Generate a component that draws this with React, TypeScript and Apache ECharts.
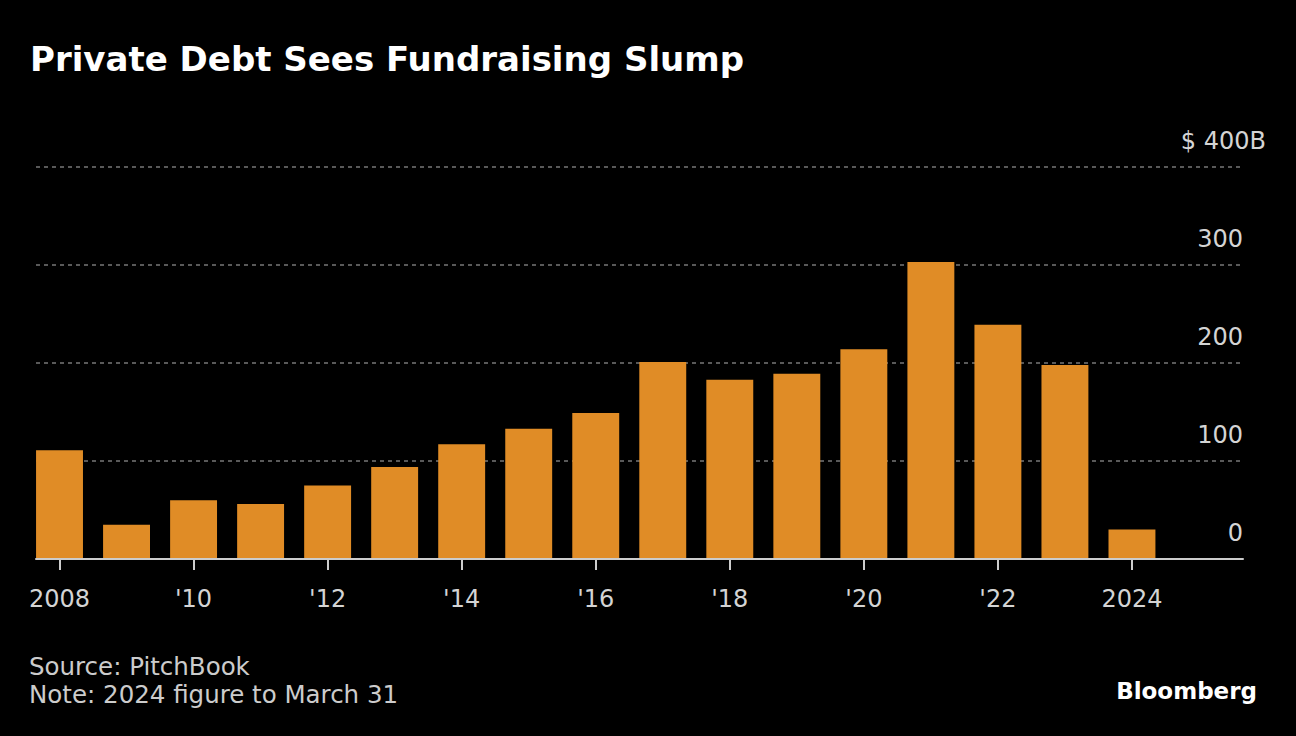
import React, { useEffect, useRef } from "react";
import * as echarts from "echarts";

const years = ["2008","2009","2010","2011","2012","2013","2014","2015","2016","2017","2018","2019","2020","2021","2022","2023","2024","2025"];
const values: (number | null)[] = [111, 35, 60, 56, 75, 94, 117, 133, 149, 201, 183, 189, 214, 303, 239, 198, 30, null];
const xLabels: Record<string, string> = { "2008": "2008", "2010": "'10", "2012": "'12", "2014": "'14", "2016": "'16", "2018": "'18", "2020": "'20", "2022": "'22", "2024": "2024" };
const yTicks = [0, 100, 200, 300];
const yMaxLabel = "$ 400";

export default function App() {
  const ref = useRef<HTMLDivElement>(null);
  useEffect(() => {
    const chart = echarts.init(ref.current!, null, { renderer: "svg" });
    const labelColor = "#d4d4d4";
    chart.setOption({
      animation: false,
      backgroundColor: "#000000",
      textStyle: { fontFamily: "DejaVu Sans" },
      grid: [
        { left: 26, right: 63.5, top: 167, bottom: 177 },
        { left: 36, right: 53, top: 167, bottom: 177 },
      ],
      xAxis: [
        {
          type: "category",
          gridIndex: 0,
          data: years,
          axisLine: { show: true, lineStyle: { color: "rgba(0,0,0,0)", width: 0 } },
          axisTick: {
            show: true,
            alignWithLabel: true,
            interval: (i: number) => i % 2 === 0 && i < 17,
            length: 11,
            lineStyle: { color: "#cccccc", width: 2 },
          },
          axisLabel: {
            interval: 0,
            formatter: (v: string) => xLabels[v] || "",
            color: labelColor,
            fontSize: 24,
            margin: 28,
          },
          z: 5,
        },
        {
          type: "value",
          gridIndex: 1,
          min: 0,
          max: 1,
          axisLine: { show: true, onZero: false, lineStyle: { color: "#cccccc", width: 2 } },
          axisTick: { show: false },
          axisLabel: { show: false },
          splitLine: { show: false },
          z: 4,
        },
      ],
      yAxis: [
        {
          type: "value",
          gridIndex: 0,
          min: 0,
          max: 400,
          interval: 100,
          show: false,
          splitLine: { show: false },
        },
        {
          type: "value",
          gridIndex: 1,
          position: "right",
          min: 0,
          max: 400,
          interval: 100,
          axisLine: { show: false },
          axisTick: { show: false },
          splitLine: { lineStyle: { color: "#777777", type: [4, 4], width: 1.5 } },
          axisLabel: {
            inside: true,
            verticalAlign: "bottom",
            padding: [0, 0, 14, 0],
            margin: 0,
            color: labelColor,
            fontSize: 24,
            formatter: (v: number) => (yTicks.includes(v) ? String(v) : ""),
          },
        },
        {
          type: "value",
          gridIndex: 1,
          position: "right",
          min: 0,
          max: 400,
          interval: 100,
          axisLine: { show: false },
          axisTick: { show: false },
          splitLine: { show: false },
          axisLabel: {
            inside: true,
            verticalAlign: "bottom",
            padding: [0, 0, 14, 0],
            margin: -23,
            color: labelColor,
            fontSize: 24,
            formatter: (v: number) => (v === 400 ? yMaxLabel + "B" : ""),
          },
        },
      ],
      series: [
        {
          type: "bar",
          xAxisIndex: 0,
          yAxisIndex: 0,
          data: values,
          barCategoryGap: "30%",
          itemStyle: { color: "#E08C26" },
          z: 3,
        },
      ],
      graphic: [
        {
          type: "text",
          left: 30,
          top: 42,
          style: { text: "Private Debt Sees Fundraising Slump", fill: "#ffffff", font: "bold 34px 'DejaVu Sans'" },
        },
        {
          type: "text",
          left: 29,
          top: 652,
          style: { text: "Source: PitchBook\nNote: 2024 figure to March 31", fill: "#cccccc", font: "24.5px 'DejaVu Sans'", lineHeight: 28 },
        },
        {
          type: "text",
          right: 39,
          top: 679,
          style: { text: "Bloomberg", fill: "#ffffff", font: "bold 23px 'DejaVu Sans'" },
        },
      ],
    });
    return () => chart.dispose();
  }, []);
  return <div ref={ref} style={{ width: 1296, height: 736, position: "fixed", left: 0, top: 0 }} />;
}
